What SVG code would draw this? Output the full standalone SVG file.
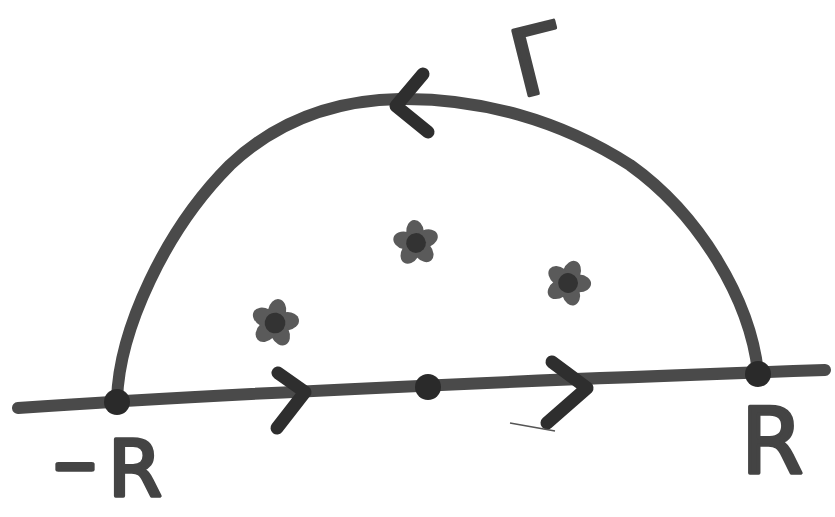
<svg xmlns="http://www.w3.org/2000/svg" width="835" height="517" viewBox="0 0 835 517">
  <style>
    .pen { fill: none; stroke: #4a4a4a; stroke-width: 12; stroke-linecap: round; stroke-linejoin: round; }
    .head { fill: none; stroke: #2e2e2e; stroke-width: 13; stroke-linecap: round; stroke-linejoin: round; }
    .dot { fill: #2a2a2a; }
    .lbl { font-family: "DejaVu Sans", sans-serif; fill: #444; stroke: #444; stroke-width: 3.5; stroke-linejoin: round; }
    .petal { fill: #5a5a5a; }
  </style>
  <defs>
    <g id="star">
      <ellipse class="petal" cx="0" cy="-10" rx="8" ry="11"/>
      <ellipse class="petal" cx="0" cy="-10" rx="8" ry="11" transform="rotate(72)"/>
      <ellipse class="petal" cx="0" cy="-10" rx="8" ry="11" transform="rotate(144)"/>
      <ellipse class="petal" cx="0" cy="-10" rx="8" ry="11" transform="rotate(216)"/>
      <ellipse class="petal" cx="0" cy="-10" rx="8" ry="11" transform="rotate(288)"/>
      <circle cx="0" cy="0" r="9" fill="#333"/>
    </g>
  </defs>
  <rect width="835" height="517" fill="#ffffff"/>

  <g id="connectors">
    <path class="pen" d="M18,408 Q300,388 825,370"/>
    <path class="pen" d="M117,400 C119,330 165,230 230,165 C280,118 340,100 400,99 C480,98 560,120 630,165 C700,215 750,300 758,372"/>
    <polyline class="head" points="423,74 396,106 428,132"/>
    <polyline class="head" points="278,373 305,392 277,428"/>
    <polyline class="head" points="552,362 587,388 547,423"/>
    <path d="M510,423 L555,431" stroke="#555" stroke-width="1.5" fill="none"/>
  </g>

  <g id="point-minus-R"><circle class="dot" cx="117" cy="402" r="13"/></g>
  <g id="point-origin"><circle class="dot" cx="428" cy="387" r="13"/></g>
  <g id="point-R"><circle class="dot" cx="758" cy="374" r="13"/></g>

  <g id="pole-1"><use href="#star" transform="translate(275,323) rotate(10) scale(1.15)"/></g>
  <g id="pole-2"><use href="#star" transform="translate(416,243) rotate(-5) scale(1.1)"/></g>
  <g id="pole-3"><use href="#star" transform="translate(568,283) rotate(20) scale(1.1)"/></g>

  <g id="label-gamma">
    <text class="lbl" x="512" y="92" font-size="92" transform="rotate(-14 540 60)">Γ</text>
  </g>
  <g id="label-minus-R">
    <text class="lbl" font-size="78"><tspan x="52" y="488" textLength="46" lengthAdjust="spacingAndGlyphs">-</tspan><tspan x="108" y="496">R</tspan></text>
  </g>
  <g id="label-R">
    <text class="lbl" x="741" y="473" font-size="90">R</text>
  </g>
</svg>
